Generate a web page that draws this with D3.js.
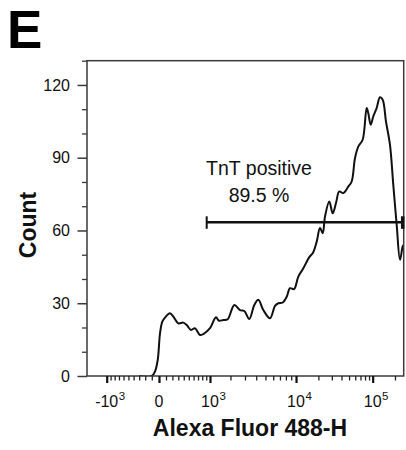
<!DOCTYPE html>
<html><head><meta charset="utf-8">
<script src="https://cdn.jsdelivr.net/npm/d3@7"></script>
<style>
html,body{margin:0;padding:0;background:#fff;}
svg{display:block;font-family:"Liberation Sans",Arial,Helvetica,sans-serif;}
</style></head>
<body><svg id="c" width="406" height="450"></svg>
<script>
// ---- data ----
const intensity = [-300, -100, -55, -17, 14, 46, 85, 161, 215, 300, 391, 457, 545, 631,
  746, 826, 1000, 1252, 1390, 1603, 1840, 2237, 2625, 2947, 3359, 3813, 4210, 4753, 5570,
  6255, 6745, 7451, 8148, 8767, 9573, 10756, 12585, 15158, 16827, 19013, 21016, 22803,
  24440, 27806, 30780, 33960, 37460, 42170, 48890, 54040, 59550, 65610, 74640, 83910,
  87940, 94330, 101890, 113280, 125550, 136560, 151330, 171370, 189840, 210970, 233710,
  254100, 262144];
const count = [0, 0, 1.8, 6.6, 17.6, 22.4, 24.1, 25.9, 24.5, 21.7, 22.0, 21.0, 19.0, 19.7,
  16.9, 17.3, 19.7, 24.2, 22.8, 23.1, 23.4, 29.3, 27.2, 26.8, 23.5, 29.3, 31.4, 27.2, 23.8,
  28.9, 30.0, 30.3, 32.7, 36.2, 35.8, 41.0, 44.4, 49.0, 50.6, 55.4, 61.0, 58.9,
  65.7, 71.9, 67.1, 71.3, 76.1, 75.4, 78.1, 80.2, 89.8, 94.6, 97.4, 110.5,
  108.4, 103.6, 107.0, 110.5, 114.9, 113.9, 104.9, 95.3, 78.8, 62.3, 47.9,
  53.4, 54.1];
const gateRange = [912, 262144];
const gateName = "TnT positive";
const gatePct = "89.5 %";
const xTickVals = [-1000, 0, 1000, 10000, 100000];
const xTickBase = ["-10", "0", "10", "10", "10"];
const xTickSup  = ["3", "", "3", "4", "5"];
const xMinorVals = [-900,-800,-700,-600,-500,-400,-300,-200,-100,
  100,200,300,400,500,600,700,800,900,
  2000,3000,4000,5000,6000,7000,8000,9000,
  20000,30000,40000,50000,60000,70000,80000,90000, 200000];
const yTickVals = [0, 30, 60, 90, 120];
const yMinorVals = [10, 20, 40, 50, 70, 80, 100, 110, 130];
const xDomain = [-1600, 262144];
const yDomain = [0, 130];
const xLabel = "Alexa Fluor 488-H";
const yLabel = "Count";
const panel = "E";

// ---- layout ----
const X0 = 87, X1 = 403.7, Y0 = 376, Y1 = 60.7;
const W = X1 - X0;
// biexponential-style display: symlog transform, calibrated per display anchor
const C = 1000;
const sl = v => Math.sign(v) * Math.log1p(Math.abs(v) / C);
const anchorVals = [xDomain[0], -1000, 0, 1000, 10000, 100000, xDomain[1]];
const anchorFrac = [0, 0.0622, 0.2273, 0.3884, 0.660, 0.902, 1];
const xs = d3.scaleLinear().domain(anchorVals.map(sl)).range(anchorFrac.map(f => X0 + f * W));
const x = v => xs(sl(v));
const y = d3.scaleLinear().domain(yDomain).range([Y0, Y1]);

const svg = d3.select("#c");
const axisCol = "#3a3a3a";

svg.append("defs").append("clipPath").attr("id","clip")
  .append("rect").attr("x", X0).attr("y", Y1).attr("width", W).attr("height", Y0 - Y1);

// curve
const pts = intensity.map((v, i) => [v, count[i]]);
const line = d3.line().x(d => x(d[0])).y(d => y(d[1])).curve(d3.curveCatmullRom.alpha(0.5));
svg.append("path").attr("d", line(pts)).attr("clip-path","url(#clip)")
  .attr("fill","none").attr("stroke","#111").attr("stroke-width",2).attr("stroke-linejoin","round");

// box
svg.append("rect").attr("x", X0).attr("y", Y1).attr("width", W).attr("height", Y0 - Y1)
  .attr("fill","none").attr("stroke",axisCol).attr("stroke-width",1.5);

// y axis
const yAx = svg.append("g").attr("transform",`translate(${X0},0)`)
  .call(d3.axisLeft(y).tickValues(yTickVals).tickSize(9.5).tickPadding(7.5).tickFormat(d3.format("d")));
yAx.select(".domain").remove();
yAx.selectAll("line").attr("stroke",axisCol).attr("stroke-width",1.5);
yAx.selectAll("text").attr("font-size",16).attr("fill","#111").attr("font-family","Liberation Sans, Arial, sans-serif");
const yMin = svg.append("g").attr("transform",`translate(${X0},0)`)
  .call(d3.axisLeft(y).tickValues(yMinorVals).tickSize(5).tickFormat(""));
yMin.select(".domain").remove();
yMin.selectAll("line").attr("stroke",axisCol).attr("stroke-width",1.3);

// x axis
const xAx = svg.append("g").attr("transform",`translate(0,${Y0})`)
  .call(d3.axisBottom(xs).tickValues(xTickVals.map(sl)).tickSize(7).tickFormat(""));
xAx.select(".domain").remove();
xAx.selectAll("line").attr("stroke","#111").attr("stroke-width",2.2);
const xMin = svg.append("g").attr("transform",`translate(0,${Y0})`)
  .call(d3.axisBottom(xs).tickValues(xMinorVals.map(sl)).tickSize(4.5).tickFormat(""));
xMin.select(".domain").remove();
xMin.selectAll("line").attr("stroke","#222").attr("stroke-width",1.3);

// x tick labels with superscripts, base centred on the tick
xTickVals.forEach((v, i) => {
  const t = svg.append("text").attr("y", 406.5).attr("font-size",16).attr("fill","#111");
  const b = t.append("tspan").text(xTickBase[i]);
  if (xTickSup[i]) t.append("tspan").attr("font-size",11.5).attr("dy",-7).attr("dx",0.5).text(xTickSup[i]);
  const bw = b.node().getComputedTextLength();
  t.attr("x", x(v) - bw / 2);
});

// gate
const gy = 222.3;
svg.append("line").attr("x1", x(gateRange[0])).attr("x2", X1).attr("y1", gy).attr("y2", gy)
  .attr("stroke","#111").attr("stroke-width",2.5);
svg.append("line").attr("x1", x(gateRange[0])).attr("x2", x(gateRange[0])).attr("y1", gy - 6).attr("y2", gy + 6.5)
  .attr("stroke","#111").attr("stroke-width",2);
svg.append("line").attr("x1", X1 - 1).attr("x2", X1 - 1).attr("y1", gy - 6).attr("y2", gy + 6.5)
  .attr("stroke","#111").attr("stroke-width",3.5);
svg.append("text").attr("x", 259).attr("y", 174.5).attr("text-anchor","middle")
  .attr("font-size",19.5).attr("fill","#111").text(gateName);
svg.append("text").attr("x", 259).attr("y", 201.5).attr("text-anchor","middle")
  .attr("font-size",19.5).attr("fill","#111").text(gatePct);

// axis titles
svg.append("text").attr("x", 250).attr("y", 435.7).attr("text-anchor","middle")
  .attr("font-size",23).attr("font-weight","bold").attr("fill","#111").text(xLabel);
svg.append("text").attr("transform","translate(36,225) rotate(-90)").attr("text-anchor","middle")
  .attr("font-size",23).attr("font-weight","bold").attr("fill","#111").text(yLabel);

// panel letter
svg.append("text").attr("x", 7).attr("y", 48.2).attr("font-size",53).attr("font-weight","bold")
  .attr("fill","#000").text(panel);
</script></body></html>
